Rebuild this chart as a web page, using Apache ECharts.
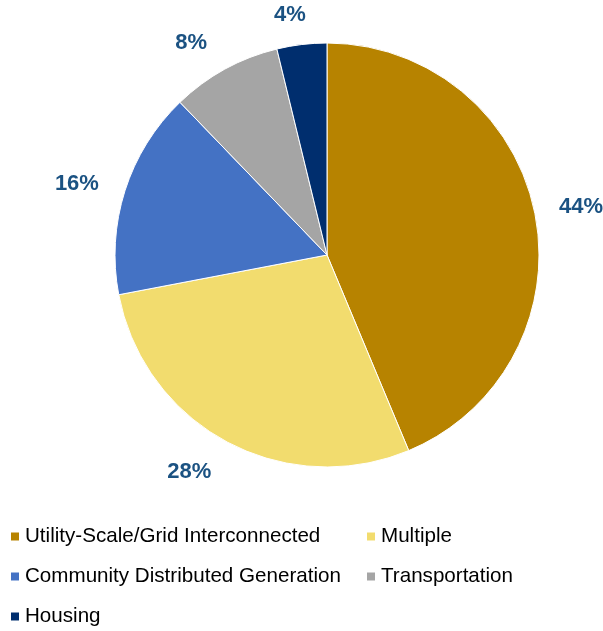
<!DOCTYPE html>
<html><head><meta charset="utf-8">
<script src="https://cdn.jsdelivr.net/npm/echarts@6/dist/echarts.min.js"></script>
<style>html,body{margin:0;padding:0;background:#fff}#c{width:603px;height:631px}</style>
</head><body><div id="c"></div>
<script>
var categories = ["Utility-Scale/Grid Interconnected","Multiple","Community Distributed Generation","Transportation","Housing"];
var values = [43.7, 28.3, 15.8, 8.4, 3.8];
var colors = ["#B78300","#F2DC6E","#4472C4","#A5A5A5","#002E6E"];
var legendCol1 = ["Utility-Scale/Grid Interconnected","Community Distributed Generation","Housing"];
var legendCol2 = ["Multiple","Transportation"];
// small nudges of the percent labels (px) relative to their ring position
var labelNudge = [[6,2],[-18,-6],[-9,6],[-14,10],[-7,11]];

var chart = echarts.init(document.getElementById('c'));
var pieData = categories.map(function(n,i){return {name:n, value:values[i]};});
var labelData = categories.map(function(n,i){return {name:n, value:values[i], label:{offset:labelNudge[i]}};});
var legendBase = {
  orient:'vertical', icon:'rect', itemWidth:10, itemHeight:10, itemGap:19, top:526, height:130,
  padding:0, selectedMode:false,
  textStyle:{fontFamily:'Liberation Sans, Arial', fontSize:20.6, color:'#000', lineHeight:20}
};
chart.setOption({
  color: colors,
  animation:false,
  legend:[
    Object.assign({}, legendBase, {left:9, data:legendCol1}),
    Object.assign({}, legendBase, {left:365, data:legendCol2})
  ],
  series:[
    {type:'pie', center:[327,255], radius:[0,212], startAngle:90, clockwise:true,
     data:pieData, label:{show:false}, labelLine:{show:false},
     itemStyle:{borderColor:'#fff', borderWidth:1}, silent:true},
    {type:'pie', center:[327,255], radius:[216,284], startAngle:90, clockwise:true,
     data:labelData, silent:true, legendHoverLink:false,
     itemStyle:{color:'rgba(0,0,0,0)'},
     label:{show:true, position:'inside', fontFamily:'Liberation Sans, Arial', fontWeight:'bold', fontSize:22, color:'#1B5282',
       formatter:function(p){return Math.round(p.percent)+'%';}},
     labelLine:{show:false}}
  ]
});
</script></body></html>
